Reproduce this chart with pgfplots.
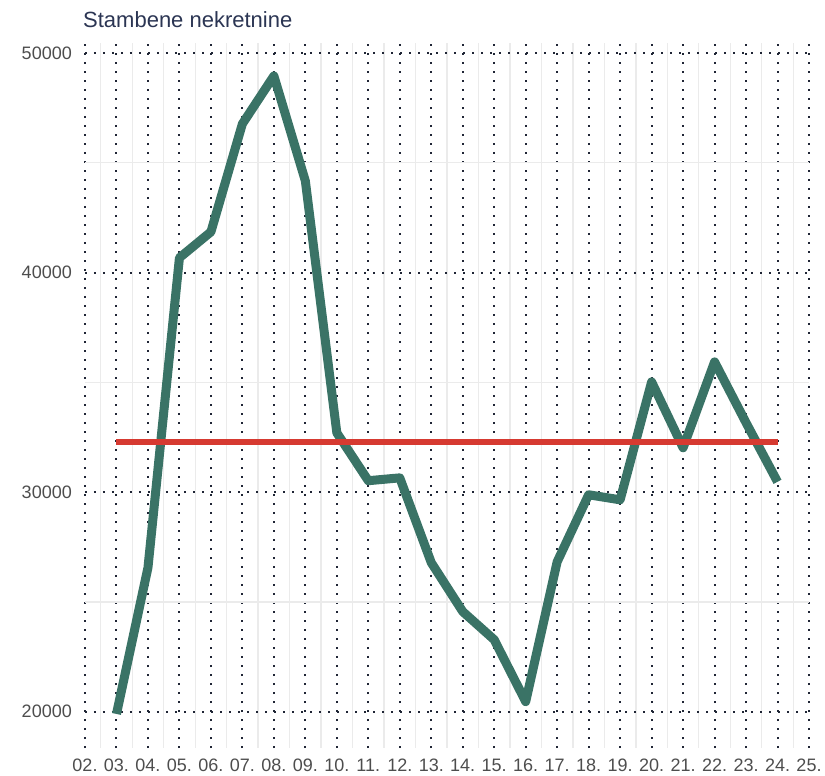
\documentclass[border=0pt]{standalone}
\usepackage{pgfplots}
\pgfplotsset{compat=1.18}
\usepackage{fontspec}
\setmainfont{Liberation Sans}
\definecolor{lineg}{HTML}{3A7366}
\definecolor{liner}{HTML}{D63A31}
\definecolor{titlec}{HTML}{2B3553}
\definecolor{tickc}{HTML}{4D4D4D}
\definecolor{gridd}{HTML}{1F2535}
\definecolor{gridl}{HTML}{EBEBEB}
\begin{document}
\begin{tikzpicture}
\begin{axis}[
  name=ax,
  scale only axis,
  width=724bp, height=705bp,
  xmin=2, xmax=25,
  ymin=18350, ymax=50450,
  axis line style={draw=none},
  tick style={draw=none},
  xtick={2,...,25},
  xticklabels={02.,03.,04.,05.,06.,07.,08.,09.,10.,11.,12.,13.,14.,15.,16.,17.,18.,19.,20.,21.,22.,23.,24.,25.},
  ytick={20000,30000,40000,50000},
  scaled ticks=false,
  minor x tick num=1,
  minor y tick num=1,
  grid=both,
  every major grid/.style={draw=gridd, line width=2bp, dash pattern=on 2bp off 7bp},
  every minor grid/.style={draw=gridl, line width=1.3bp, solid},
  /pgf/number format/assume math mode=true,
  /pgf/number format/set thousands separator={},
  tick label style={font=\fontsize{18bp}{21bp}\selectfont, text=tickc},
  xticklabel style={anchor=north, inner sep=0pt, yshift=-11bp},
  yticklabel style={anchor=east, inner sep=0pt, xshift=-13bp},
  clip=false,
]
\addplot[lineg, line width=9bp, line join=round, line cap=butt] coordinates {
(3,19900) (4,26560) (5,40670) (6,41850) (7,46770) (8,48950) (9,44170)
(10,32700) (11,30520) (12,30650) (13,26790) (14,24560) (15,23280)
(16,20460) (17,26830) (18,29880) (19,29650) (20,35020) (21,32020)
(22,35930) (23,33160) (24,30470)
};
\addplot[liner, line width=6bp] coordinates {(3,32300) (24,32300)};
\end{axis}
\node[anchor=base west, inner sep=0pt, text=titlec, font=\fontsize{22bp}{26bp}\selectfont] at ([shift={(-2bp,15bp)}]ax.north west) {Stambene nekretnine};
\path ([shift={(-85bp,-28bp)}]ax.south west) rectangle ([shift={(740bp,748bp)}]ax.south west);
\end{tikzpicture}
\end{document}
